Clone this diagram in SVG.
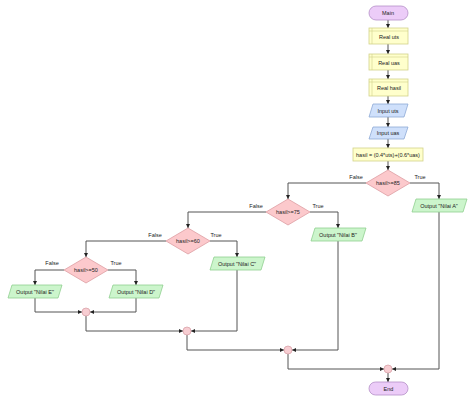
<svg xmlns="http://www.w3.org/2000/svg" width="474" height="401" viewBox="0 0 474 401">
<style>
text{font-family:"Liberation Sans",Arial,sans-serif;font-size:5.5px;fill:#222;text-anchor:middle;dominant-baseline:central}
.lbl{font-size:5.5px}
.term{fill:#ecccf8;stroke:#b58fc8;stroke-width:0.8}
.decl{fill:#ffffcc;stroke:#d2d28a;stroke-width:0.8}
.inp{fill:#cfe0fb;stroke:#8ea9d6;stroke-width:0.8}
.dec{fill:#fcc9cc;stroke:#dd9da2;stroke-width:0.8}
.out{fill:#ccf5cc;stroke:#8fcf8f;stroke-width:0.8}
.jn{fill:#f7cdd2;stroke:#d9a3a9;stroke-width:0.8}
.c{fill:none;stroke:#555;stroke-width:1;marker-end:url(#ah)}
</style>
<defs>
<marker id="ah" viewBox="0 0 6 6" refX="6" refY="3" markerWidth="4" markerHeight="4" orient="auto" markerUnits="userSpaceOnUse">
<path d="M0,0 L6,3 L0,6 Z" fill="#222"/>
</marker>
</defs>
<rect width="474" height="401" fill="#ffffff"/>
<g id="connectors">
<path class="c" d="M388,20 V28"/>
<path class="c" d="M388,44 V54"/>
<path class="c" d="M388,70 V79"/>
<path class="c" d="M388,96 V104"/>
<path class="c" d="M388,117 V127"/>
<path class="c" d="M388,139 V148"/>
<path class="c" d="M388,161 V170"/>
<path class="c" d="M366,183 H288 V199"/>
<path class="c" d="M410,183 H439 V199"/>
<path class="c" d="M266,212 H188 V228"/>
<path class="c" d="M310,212 H338 V228"/>
<path class="c" d="M166,241 H86 V257"/>
<path class="c" d="M210,241 H237 V257"/>
<path class="c" d="M64,270 H35 V285"/>
<path class="c" d="M108,270 H136 V285"/>
<path class="c" d="M35,298 V312 H82"/>
<path class="c" d="M136,298 V312 H90"/>
<path class="c" d="M86,316 V331 H183"/>
<path class="c" d="M237,270 V331 H191"/>
<path class="c" d="M187,335 V350 H284"/>
<path class="c" d="M338,241 V350 H292"/>
<path class="c" d="M288,354 V369 H384"/>
<path class="c" d="M439,212 V369 H392"/>
<path class="c" d="M388,373 V382"/>
<text class="lbl" x="356" y="177">False</text>
<text class="lbl" x="420" y="177">True</text>
<text class="lbl" x="256" y="206">False</text>
<text class="lbl" x="318" y="206">True</text>
<text class="lbl" x="155" y="235">False</text>
<text class="lbl" x="216" y="235">True</text>
<text class="lbl" x="52" y="263">False</text>
<text class="lbl" x="116" y="263">True</text>
</g>
<g id="main"><rect class="term" x="369" y="6" width="39" height="14" rx="7"/><text x="388" y="13">Main</text></g>
<g id="real-uts"><rect class="decl" x="369" y="28" width="39" height="16"/><path d="M372,28 V44 M369,31 H408" stroke="#d2d28a" stroke-width="0.6" fill="none"/><text x="389" y="36.5">Real uts</text></g>
<g id="real-uas"><rect class="decl" x="369" y="54" width="39" height="16"/><path d="M372,54 V70 M369,57 H408" stroke="#d2d28a" stroke-width="0.6" fill="none"/><text x="389" y="62.5">Real uas</text></g>
<g id="real-hasil"><rect class="decl" x="369" y="79" width="39" height="17"/><path d="M372,79 V96 M369,82 H408" stroke="#d2d28a" stroke-width="0.6" fill="none"/><text x="389" y="88">Real hasil</text></g>
<g id="input-uts"><polygon class="inp" points="373,104 408,104 404,117 369,117"/><text x="388" y="110.5">Input uts</text></g>
<g id="input-uas"><polygon class="inp" points="373,127 408,127 404,139 369,139"/><text x="388" y="133">Input uas</text></g>
<g id="assign"><rect class="decl" x="353" y="148" width="70" height="13"/><text x="388" y="154.5">hasil = (0.4*uts)+(0.6*uas)</text></g>
<g id="dec85"><polygon class="dec" points="388,170 410,183 388,196 366,183"/><text x="388" y="183">hasil&gt;=85</text></g>
<g id="outA"><polygon class="out" points="416,199 467,199 463,212 412,212"/><text x="439" y="205.5">Output "Nilai A"</text></g>
<g id="dec75"><polygon class="dec" points="288,199 310,212 288,225 266,212"/><text x="288" y="212">hasil&gt;=75</text></g>
<g id="outB"><polygon class="out" points="315,228 366,228 362,241 311,241"/><text x="338" y="234.5">Output "Nilai B"</text></g>
<g id="dec60"><polygon class="dec" points="188,228 210,241 188,254 166,241"/><text x="188" y="241">hasil&gt;=60</text></g>
<g id="outC"><polygon class="out" points="214,257 265,257 261,270 210,270"/><text x="237" y="263.5">Output "Nilai C"</text></g>
<g id="dec50"><polygon class="dec" points="86,257 108,270 86,283 64,270"/><text x="86" y="270">hasil&gt;=50</text></g>
<g id="outE"><polygon class="out" points="12,285 62,285 58,298 8,298"/><text x="35" y="291.5">Output "Nilai E"</text></g>
<g id="outD"><polygon class="out" points="113,285 163,285 159,298 109,298"/><text x="136" y="291.5">Output "Nilai D"</text></g>
<g id="j1"><circle class="jn" cx="86" cy="312" r="4"/></g>
<g id="j2"><circle class="jn" cx="187" cy="331" r="4"/></g>
<g id="j3"><circle class="jn" cx="288" cy="350" r="4"/></g>
<g id="j4"><circle class="jn" cx="388" cy="369" r="4"/></g>
<g id="end"><rect class="term" x="369" y="382" width="39" height="13" rx="6.5"/><text x="388.5" y="388.5">End</text></g>
</svg>
